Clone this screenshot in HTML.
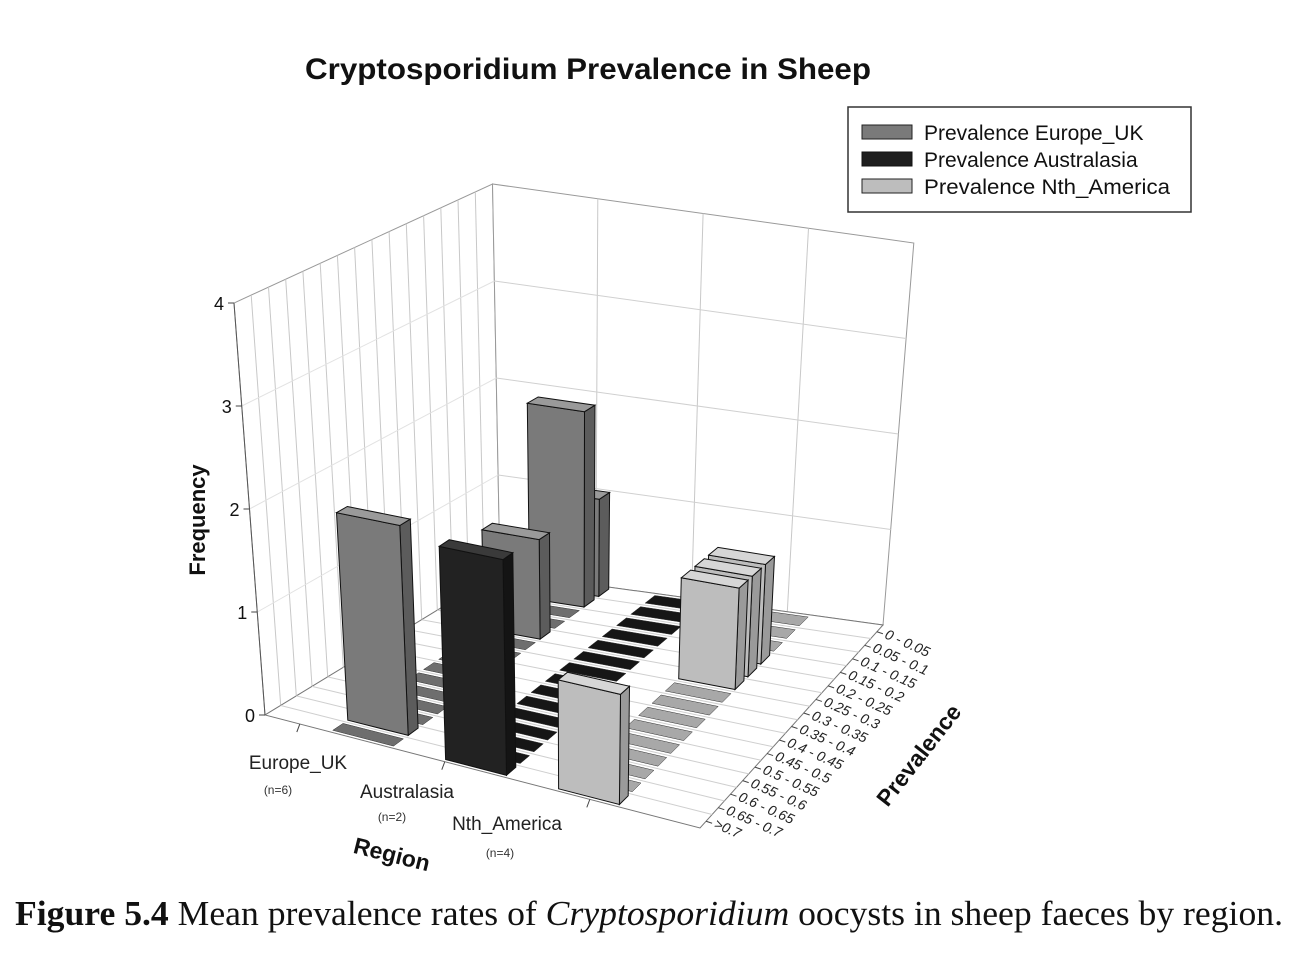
<!DOCTYPE html>
<html><head><meta charset="utf-8">
<style>
html,body{margin:0;padding:0;background:#fff;}
svg{display:block;font-family:"Liberation Sans",sans-serif;}
</style></head>
<body>
<svg id="chart" width="1309" height="957" viewBox="0 0 1309 957" xmlns="http://www.w3.org/2000/svg">
<text x="588" y="79" text-anchor="middle" font-size="30" font-weight="bold" fill="#111" textLength="566" lengthAdjust="spacingAndGlyphs">Cryptosporidium Prevalence in Sheep</text>
<g id="grid"></g>
<g id="marks"></g>
<g id="axes"></g>
<text transform="translate(205,520) rotate(-90)" text-anchor="middle" font-size="22" font-weight="bold" fill="#111">Frequency</text>
<text transform="translate(390,862) rotate(14)" text-anchor="middle" font-size="23" font-weight="bold" fill="#111">Region</text>
<text transform="translate(925,760) rotate(-52)" text-anchor="middle" font-size="23" font-weight="bold" fill="#111">Prevalence</text>
<g>
<rect x="848" y="107" width="343" height="105" fill="#fff" stroke="#333" stroke-width="1.5"/>
<rect x="862" y="125" width="50" height="14" fill="#7a7a7a" stroke="#222"/>
<text x="924" y="140" font-size="21" fill="#111">Prevalence Europe_UK</text>
<rect x="862" y="152" width="50" height="14" fill="#1e1e1e" stroke="#111"/>
<text x="924" y="167" font-size="21" fill="#111">Prevalence Australasia</text>
<rect x="862" y="179" width="50" height="14" fill="#bdbdbd" stroke="#222"/>
<text x="924" y="194" font-size="21" fill="#111" textLength="246" lengthAdjust="spacingAndGlyphs">Prevalence Nth_America</text>
</g>
<text x="15" y="925" font-family="'Liberation Serif',serif" font-size="35" fill="#111" textLength="1268" lengthAdjust="spacingAndGlyphs"><tspan font-weight="bold">Figure 5.4</tspan>  Mean prevalence rates of <tspan font-style="italic">Cryptosporidium</tspan> oocysts in sheep faeces by region.</text>
</svg>
<script>
const categories = ["0 - 0.05","0.05 - 0.1","0.1 - 0.15","0.15 - 0.2","0.2 - 0.25","0.25 - 0.3","0.3 - 0.35","0.35 - 0.4","0.4 - 0.45","0.45 - 0.5","0.5 - 0.55","0.55 - 0.6","0.6 - 0.65","0.65 - 0.7",">0.7"];
const regions = ["Europe_UK","Australasia","Nth_America"];
const regionCounts = ["(n=6)","(n=2)","(n=4)"];
const europeUK = [1,2,0,0,1,0,0,0,0,0,0,0,0,2,0];
const australasia = [0,0,0,0,0,0,0,0,0,0,0,0,0,0,2];
const nthAmerica = [0,0,0,1,1,1,0,0,0,0,0,0,0,0,1];
const yTicks = [0,1,2,3,4];

const NS="http://www.w3.org/2000/svg";
const Bc=[500,572],Rc=[883,625],Lc=[265,715],Fc=[700,828];
const Sb=97,Sr=95.5,Sl=103,Sf=112;
const rowCenters=[0.22,0.48,0.74];
function proj(u,v,h){
  const a=(1-u)*(1-v),b=u*(1-v),c=(1-u)*v,d=u*v;
  const bx=a*Bc[0]+b*Rc[0]+c*Lc[0]+d*Fc[0];
  const by=a*Bc[1]+b*Rc[1]+c*Lc[1]+d*Fc[1];
  const s=a*Sb+b*Sr+c*Sl+d*Sf;
  return [bx+(bx-575)*h*0.025, by-h*s];
}
function pts(arr){return arr.map(p=>proj(p[0],p[1],p[2]).map(n=>n.toFixed(1)).join(",")).join(" ");}
function mk(tag,parent,attrs){const e=document.createElementNS(NS,tag);for(const k in attrs)e.setAttribute(k,attrs[k]);parent.appendChild(e);return e;}
const grid=document.getElementById("grid"),marks=document.getElementById("marks"),axes=document.getElementById("axes");
const nC=categories.length,maxY=4;

let w=mk("polygon",grid,{points:pts([[0,0,0],[0,1,0],[0,1,maxY],[0,0,maxY]]),fill:"#fff",stroke:"#999","stroke-width":1});


w=mk("polygon",grid,{points:pts([[0,0,0],[1,0,0],[1,0,maxY],[0,0,maxY]]),fill:"#fff",stroke:"#999","stroke-width":1});


for(let i=1;i<nC;i++){
  const l=mk("polyline",grid,{points:pts([[0,i/nC,0],[0,i/nC,maxY]]),stroke:"#c8c8c8",fill:"none"});
  
  
}
for(let j=1;j<4;j++){
  const l=mk("polyline",grid,{points:pts([[j/4,0,0],[j/4,0,maxY]]),stroke:"#c8c8c8",fill:"none"});
  
  
}
yTicks.forEach(t=>{
  if(t===0||t===maxY)return;
  const l=mk("polyline",grid,{points:pts([[0,0,t],[1,0,t]]),stroke:"#d0d0d0",fill:"none"});
  
  
  const l2=mk("polyline",grid,{points:pts([[0,1,t],[0,0,t]]),stroke:"#e2e2e2",fill:"none"});
  
  
});
w=mk("polygon",grid,{points:pts([[0,0,0],[1,0,0],[1,1,0],[0,1,0]]),fill:"#fff",stroke:"#777"});


for(let i=1;i<nC;i++){
  const l=mk("polyline",grid,{points:pts([[0,i/nC,0],[1,i/nC,0]]),stroke:"#cfcfcf",fill:"none"});
  
  
}

const series=[europeUK,australasia,nthAmerica];
const cols=[{f:"#7a7a7a",s:"#5c5c5c",t:"#9a9a9a",z:"#6e6e6e"},{f:"#222",s:"#141414",t:"#3a3a3a",z:"#161616"},{f:"#bdbdbd",s:"#9a9a9a",t:"#d6d6d6",z:"#a8a8a8"}];
const items=[];
series.forEach((vals,r)=>vals.forEach((val,i)=>items.push({r,i,val,u:rowCenters[r],v:(i+0.5)/nC})));
items.sort((a,b)=>(a.u+a.v)-(b.u+b.v));
items.forEach(it=>{
  const c=cols[it.r];
  const u0=it.u-0.07,u1=it.u+0.07,v0=it.v-0.34/nC,v1=it.v+0.34/nC,h=it.val;
  const g=mk("g",marks,{});
  if(h<=0){
    
    
    mk("polygon",g,{points:pts([[u0,v0,0],[u1,v0,0],[u1,v1,0],[u0,v1,0]]),fill:c.z,stroke:"#333","stroke-width":0.5});
    return;
  }
  
  
  mk("polygon",g,{points:pts([[u1,v0,0],[u1,v1,0],[u1,v1,h],[u1,v0,h]]),fill:c.s,stroke:"#111","stroke-width":1});
  mk("polygon",g,{points:pts([[u0,v1,0],[u1,v1,0],[u1,v1,h],[u0,v1,h]]),fill:c.f,stroke:"#111","stroke-width":1});
  mk("polygon",g,{points:pts([[u0,v0,h],[u1,v0,h],[u1,v1,h],[u0,v1,h]]),fill:c.t,stroke:"#111","stroke-width":1});
});

let ax=mk("polyline",axes,{points:pts([[0,1,0],[0,1,maxY]]),stroke:"#555",fill:"none"});


yTicks.forEach(t=>{
  const p=proj(0,1,t);
  const tk=mk("line",axes,{x1:p[0]-6,y1:p[1],x2:p[0],y2:p[1],stroke:"#444"});
  
  
  const tx=mk("text",axes,{x:p[0]-10,y:p[1]+7,"text-anchor":"end","font-size":18,fill:"#111"});
  tx.textContent=t;
  
  
});
const regLabelPos=[[298,769,278,794],[407,798,392,821],[507,830,500,857]];
regions.forEach((name,r)=>{
  const tk=proj(r/3+0.08,1,0);
  const t=mk("line",axes,{x1:tk[0],y1:tk[1],x2:tk[0]-3,y2:tk[1]+8,stroke:"#444"});
  
  
  const tx=mk("text",axes,{x:regLabelPos[r][0],y:regLabelPos[r][1],"text-anchor":"middle","font-size":19,fill:"#222"});
  tx.textContent=name;
  
  
  const tn=mk("text",axes,{x:regLabelPos[r][2],y:regLabelPos[r][3],"text-anchor":"middle","font-size":12,fill:"#333"});
  tn.textContent=regionCounts[r];
  
  
});
categories.forEach((name,i)=>{
  const p=proj(1,(i+0.5)/nC,0);
  const t=mk("line",axes,{x1:p[0],y1:p[1],x2:p[0]+6,y2:p[1]+2,stroke:"#444"});
  
  
  const tx=mk("text",axes,{transform:`translate(${(p[0]+7).toFixed(1)},${(p[1]+6).toFixed(1)}) rotate(24)`,"font-size":14,"font-style":"italic",fill:"#222"});
  tx.textContent=name;
  
  
});
</script>
</body></html>
